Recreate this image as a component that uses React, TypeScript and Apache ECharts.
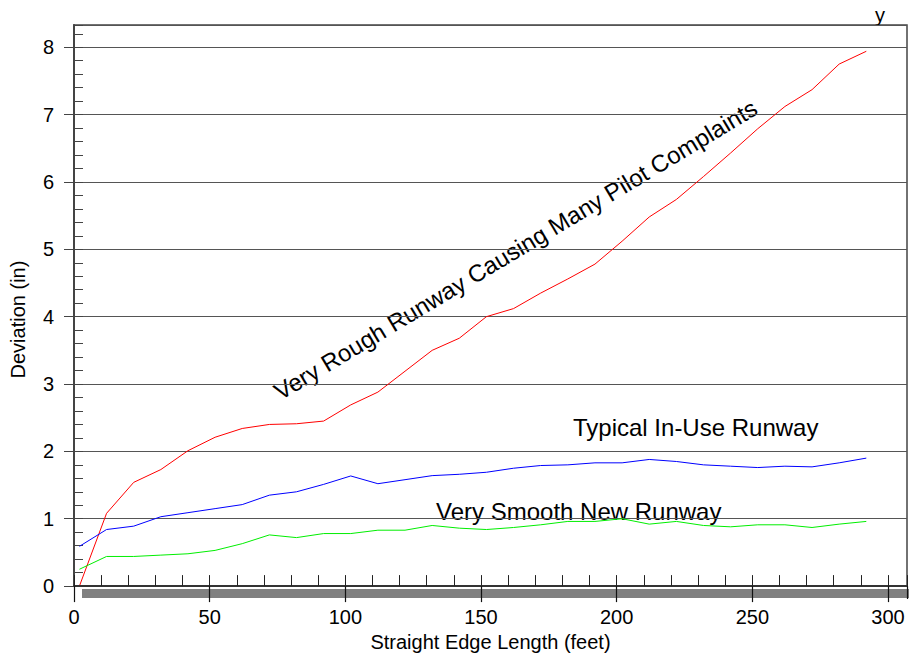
import React, { useEffect, useRef } from "react";
import * as echarts from "echarts";

const xValues = [2, 12, 22, 32, 42, 52, 62, 72, 82, 92, 102, 112, 122, 132, 142, 152, 162, 172, 182, 192, 202, 212, 222, 232, 242, 252, 262, 272, 282, 292];
const veryRough = [0.0, 1.08, 1.54, 1.73, 2.01, 2.21, 2.34, 2.40, 2.41, 2.45, 2.69, 2.88, 3.19, 3.50, 3.68, 4.00, 4.12, 4.35, 4.56, 4.78, 5.12, 5.48, 5.74, 6.08, 6.43, 6.79, 7.12, 7.37, 7.75, 7.94];
const typical = [0.59, 0.84, 0.89, 1.03, 1.09, 1.15, 1.21, 1.35, 1.40, 1.51, 1.635, 1.52, 1.58, 1.64, 1.66, 1.69, 1.75, 1.79, 1.80, 1.83, 1.83, 1.88, 1.85, 1.80, 1.78, 1.76, 1.78, 1.77, 1.83, 1.90];
const verySmooth = [0.25, 0.44, 0.44, 0.46, 0.48, 0.53, 0.63, 0.76, 0.72, 0.78, 0.78, 0.83, 0.83, 0.90, 0.86, 0.84, 0.87, 0.91, 0.96, 0.96, 1.00, 0.92, 0.96, 0.90, 0.88, 0.91, 0.91, 0.87, 0.92, 0.96];
const xTickLabels = [0, 50, 100, 150, 200, 250, 300];
const yTickLabels = [0, 1, 2, 3, 4, 5, 6, 7, 8];

const FONT = "'Liberation Sans', Arial, Helvetica, sans-serif";

export default function App() {
  const ref = useRef<HTMLDivElement>(null);
  useEffect(() => {
    if (!ref.current) return;
    const chart = echarts.init(ref.current, undefined, { renderer: "svg" });
    const toPairs = (vals: number[]) => xValues.map((x, i) => [x, vals[i]]);
    const X_MIN = 0, X_MAX = 307, Y_MIN = 0, Y_MAX = 8.33;
    chart.setOption({
      animation: false,
      backgroundColor: "#ffffff",
      textStyle: { fontFamily: FONT },
      grid: {
        left: 74, top: 25, right: 2, bottom: 68,
        show: true, borderColor: "#444", borderWidth: 1.5, backgroundColor: "transparent",
      },
      xAxis: [
        {
          type: "value", position: "bottom", min: X_MIN, max: X_MAX, interval: 10, z: 4,
          axisLine: { show: true, lineStyle: { color: "#333", width: 2 } },
          axisTick: { show: true, inside: true, length: 11, lineStyle: { color: "#222", width: 1 } },
          axisLabel: { show: false },
          splitLine: { show: false },
        },
        {
          type: "value", position: "bottom", min: X_MIN, max: X_MAX, interval: 50, z: 5,
          axisLine: { show: false },
          axisTick: { show: true, inside: false, length: 16, lineStyle: { color: "#111", width: 1.2 } },
          axisLabel: { show: true, customValues: xTickLabels, margin: 21, fontSize: 20, color: "#000", fontFamily: FONT,
            formatter: (v: number) => (v % 50 === 0 ? String(v) : "") },
          splitLine: { show: false },
          name: "Straight Edge Length (feet)", nameLocation: "middle", nameGap: 44,
          nameTextStyle: { fontSize: 20, color: "#000", fontFamily: FONT },
        },
      ],
      yAxis: [
        {
          type: "value", position: "left", min: Y_MIN, max: Y_MAX, interval: 1,
          axisLine: { show: true, lineStyle: { color: "#444", width: 2 } },
          axisTick: { show: true, inside: false, length: 10, lineStyle: { color: "#444", width: 1 } },
          axisLabel: { show: true, customValues: yTickLabels, margin: 20, fontSize: 20, color: "#000", fontFamily: FONT,
            formatter: (v: number) => (Number.isInteger(v) ? String(v) : "") },
          splitLine: { show: true, lineStyle: { color: "#555", width: 1 } },
          name: "Deviation (in)", nameLocation: "middle", nameGap: 46,
          nameTextStyle: { fontSize: 20, color: "#000", fontFamily: FONT, padding: [0, 28, 0, 0] },
        },
        {
          type: "value", position: "left", min: Y_MIN, max: Y_MAX, interval: 0.2,
          axisLine: { show: false },
          axisTick: { show: true, inside: true, length: 9, lineStyle: { color: "#444", width: 1 } },
          axisLabel: { show: false },
          splitLine: { show: false },
        },
      ],
      series: [
        { name: "Very Rough", type: "line", data: toPairs(veryRough), symbol: "none", xAxisIndex: 0, yAxisIndex: 0,
          lineStyle: { color: "#ff0000", width: 1 }, itemStyle: { color: "#ff0000" } },
        { name: "Typical", type: "line", data: toPairs(typical), symbol: "none", xAxisIndex: 0, yAxisIndex: 0,
          lineStyle: { color: "#0000ff", width: 1 }, itemStyle: { color: "#0000ff" } },
        { name: "Very Smooth", type: "line", data: toPairs(verySmooth), symbol: "none", xAxisIndex: 0, yAxisIndex: 0,
          lineStyle: { color: "#00ee00", width: 1 }, itemStyle: { color: "#00ee00" } },
      ],
      graphic: [
        { type: "rect", zlevel: -1, z: -10, left: 82, top: 589, shape: { width: 827, height: 9 }, style: { fill: "#808080" }, silent: true },
        // mask the axis-end ticks that ECharts adds at the axis extents
        { type: "rect", z: 100, left: 58, top: 22, shape: { width: 15, height: 6 }, style: { fill: "#ffffff" }, silent: true },
        { type: "rect", z: 100, left: 903, top: 599, shape: { width: 6, height: 9 }, style: { fill: "#ffffff" }, silent: true },
        { type: "text", x: 515.6, y: 249.7, rotation: (31 * Math.PI) / 180,
          style: { text: "Very Rough Runway Causing Many Pilot Complaints", fontSize: 24, fontFamily: FONT, fill: "#000",
            textAlign: "center", textVerticalAlign: "middle" } },
        { type: "text", x: 573, y: 427,
          style: { text: "Typical In-Use Runway", fontSize: 24, fontFamily: FONT, fill: "#000",
            textAlign: "left", textVerticalAlign: "middle" } },
        { type: "text", x: 436, y: 511,
          style: { text: "Very Smooth New Runway", fontSize: 24, fontFamily: FONT, fill: "#000",
            textAlign: "left", textVerticalAlign: "middle" } },
        { type: "text", x: 880, y: 15,
          style: { text: "y", fontSize: 20, fontFamily: FONT, fill: "#000",
            textAlign: "center", textVerticalAlign: "middle" } },
      ],
    });
    return () => chart.dispose();
  }, []);
  return (
    <div
      ref={ref}
      style={{ position: "fixed", left: 0, top: 0, width: 909, height: 657, background: "#fff" }}
    />
  );
}
